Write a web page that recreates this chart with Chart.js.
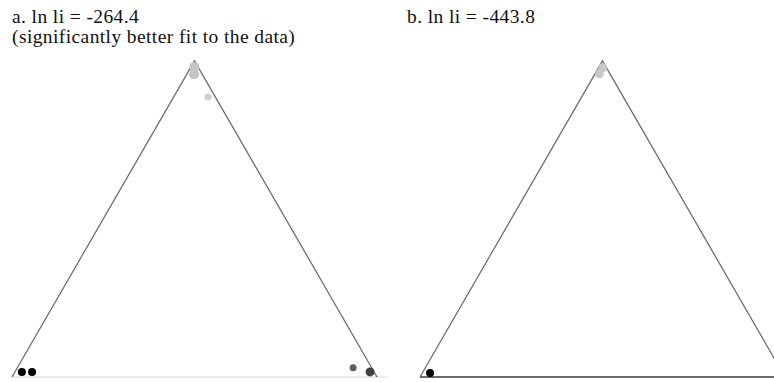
<!DOCTYPE html>
<html>
<head>
<meta charset="utf-8">
<script src="https://cdn.jsdelivr.net/npm/chart.js@4.4.0/dist/chart.umd.min.js"></script>
<style>
    body { margin: 0; background: #fff; width: 774px; height: 382px; overflow: hidden; position: relative; }
    .label { position: absolute; font-family: 'Liberation Serif', 'Times New Roman', serif; font-size: 19.5px; letter-spacing: 0.4px; line-height: 20px; color: #111; white-space: nowrap; }
    .panel { position: absolute; }
</style>
</head>
<body>
<div class="label" style="left:12px; top:7px;">a. ln li = -264.4<br>(significantly better fit to the data)</div>
<div class="label" style="left:407px; top:7px;">b. ln li = -443.8</div>
<div class="panel" id="wrap-a" style="left:0px; top:40px; width:387px; height:342px;"><canvas id="chart-a"></canvas></div>
<div class="panel" id="wrap-b" style="left:400px; top:40px; width:374px; height:342px;"><canvas id="chart-b"></canvas></div>
<script>
// Ternary compositions [top, left, right]
const panelA_top   = [0.981, 0.958, 0.886, 0.016, 0.016, 0.029, 0.016];
const panelA_left  = [0.010, 0.022, 0.020, 0.965, 0.937, 0.051, 0.011];
const panelA_right = [0.009, 0.020, 0.094, 0.019, 0.047, 0.920, 0.973];
const panelA_colors = ['#c4c4c4', '#c4c4c4', '#cfcfcf', '#000000', '#000000', '#5e5e5e', '#404040'];
const panelA_sizes  = [5, 5, 3.5, 4, 4, 3.5, 4.5];

const panelB_top   = [0.978, 0.959, 0.013];
const panelB_left  = [0.010, 0.029, 0.966];
const panelB_right = [0.012, 0.012, 0.021];
const panelB_colors = ['#c8c8c8', '#c8c8c8', '#000000'];
const panelB_sizes  = [4.5, 4.5, 4];

const H = Math.sqrt(3) / 2;
const SIDE = 365; // px per triangle side

// ternary -> cartesian in unit triangle
function toXY(top, left, right) {
    const sum = top + left + right;
    return { x: (right + top / 2) / sum, y: (top * H) / sum };
}

function makePanel(id, tops, lefts, rights, colors, sizes, originX, originY, w, h, baseColor) {
    const pts = tops.map((t, i) => toXY(t, lefts[i], rights[i]));
    const ctx = document.getElementById(id).getContext('2d');
    new Chart(ctx, {
        type: 'scatter',
        data: {
            datasets: [
                {
                    // left and right sides
                    type: 'line',
                    data: [{ x: 0, y: 0 }, { x: 0.5, y: H }, { x: 1, y: 0 }],
                    borderColor: '#6e6e6e',
                    borderWidth: 1.3,
                    pointRadius: 0,
                    fill: false,
                    order: 2
                },
                {
                    // base
                    type: 'line',
                    data: [{ x: 0, y: 0 }, { x: 1.2, y: 0 }],
                    borderColor: baseColor,
                    borderWidth: 1.6,
                    pointRadius: 0,
                    fill: false,
                    order: 3
                },
                {
                    data: pts,
                    backgroundColor: colors,
                    borderColor: colors,
                    pointRadius: sizes,
                    borderWidth: 0,
                    order: 1
                }
            ]
        },
        options: {
            responsive: true,
            maintainAspectRatio: false,
            animation: false,
            layout: { padding: 0, autoPadding: false },
            plugins: { legend: { display: false }, tooltip: { enabled: false } },
            scales: {
                x: { type: 'linear', display: false, min: -originX / SIDE, max: (w - originX) / SIDE },
                y: { type: 'linear', display: false, min: -(h - originY) / SIDE, max: originY / SIDE }
            }
        }
    });
}

makePanel('chart-a', panelA_top, panelA_left, panelA_right, panelA_colors, panelA_sizes, 12, 337, 387, 342, '#e4e4e4');
makePanel('chart-b', panelB_top, panelB_left, panelB_right, panelB_colors, panelB_sizes, 20, 337, 374, 342, '#3a3a3a');
</script>
</body>
</html>
